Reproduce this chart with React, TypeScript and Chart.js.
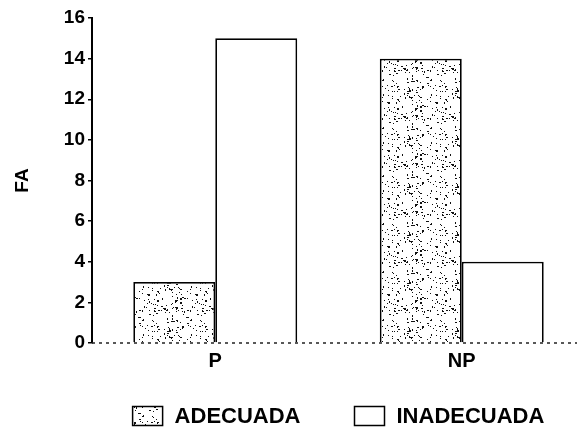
import { useEffect, useRef } from "react";
import { Chart, registerables } from "chart.js";

Chart.register(...registerables);

const categories = ["P", "NP"];
const seriesLabels = ["ADECUADA", "INADECUADA"];
const adecuadaValues = [3, 14];
const inadecuadaValues = [15, 4];
const yTitle = "FA";
const yMin = 0;
const yMax = 16;
const yStep = 2;

const FONT = "'Liberation Sans', Arial, Helvetica, sans-serif";

function makeStipple(): CanvasPattern | string {
  const S = 48;
  const tile = document.createElement("canvas");
  tile.width = S;
  tile.height = S;
  const c = tile.getContext("2d");
  if (!c) return "#ddd";
  c.fillStyle = "#ffffff";
  c.fillRect(0, 0, S, S);
  c.fillStyle = "#111111";
  // deterministic texture seed (visual stipple only, not data)
  let seed = 12345;
  const next = () => {
    seed = (seed * 1103515245 + 12345) & 0x7fffffff;
    return seed / 0x7fffffff;
  };
  for (let i = 0; i < 150; i++) {
    const x = Math.floor(next() * S);
    const y = Math.floor(next() * S);
    const w = next() < 0.25 ? 2 : 1;
    const h = next() < 0.2 ? 2 : 1;
    c.fillRect(x, y, w, h);
  }
  const p = c.createPattern(tile, "repeat");
  return p || "#ddd";
}

const customDraw = {
  id: "customDraw",
  afterDatasetsDraw(chart: any) {
    const { ctx, chartArea, scales } = chart;
    const y0 = scales.y.getPixelForValue(0);
    ctx.save();
    ctx.strokeStyle = "#222";
    ctx.lineWidth = 1.5;
    ctx.setLineDash([3, 4]);
    ctx.beginPath();
    ctx.moveTo(chartArea.left, y0);
    ctx.lineTo(chart.width, y0);
    ctx.stroke();
    ctx.restore();
  },
  afterDraw(chart: any) {
    const { ctx, chartArea } = chart;
    ctx.save();
    ctx.font = `bold 22px ${FONT}`;
    const boxW = 30;
    const boxH = 19;
    const gapText = 12;
    const gapItem = 54;
    const items = chart.data.datasets.map((ds: any) => ({
      label: ds.label as string,
      fill: ds.backgroundColor,
      w: boxW + gapText + ctx.measureText(ds.label).width,
    }));
    const total =
      items.reduce((s: number, it: any) => s + it.w, 0) + gapItem * (items.length - 1);
    let x = (chartArea.left + chartArea.right) / 2 - total / 2;
    const yc = chart.height - 19;
    for (const it of items) {
      ctx.fillStyle = it.fill;
      ctx.fillRect(x, yc - boxH / 2, boxW, boxH);
      ctx.strokeStyle = "#000";
      ctx.lineWidth = 1.5;
      ctx.strokeRect(x, yc - boxH / 2, boxW, boxH);
      ctx.fillStyle = "#000";
      ctx.textBaseline = "middle";
      ctx.textAlign = "left";
      ctx.fillText(it.label, x + boxW + gapText, yc + 1);
      x += it.w + gapItem;
    }
    ctx.restore();
  },
};

export default function App() {
  const ref = useRef<HTMLCanvasElement | null>(null);

  useEffect(() => {
    if (!ref.current) return;
    const stipple = makeStipple();
    const chart = new Chart(ref.current, {
      type: "bar",
      data: {
        labels: categories,
        datasets: [
          {
            label: seriesLabels[0],
            data: adecuadaValues,
            backgroundColor: stipple as any,
            borderColor: "#000",
            borderWidth: 1.8,
          },
          {
            label: seriesLabels[1],
            data: inadecuadaValues,
            backgroundColor: "#ffffff",
            borderColor: "#000",
            borderWidth: 1.8,
          },
        ],
      },
      options: {
        responsive: false,
        animation: false,
        layout: { padding: { top: 18, left: 0, right: 0, bottom: 56 } },
        datasets: {
          bar: { categoryPercentage: 0.665, barPercentage: 1 },
        },
        plugins: {
          legend: { display: false },
          tooltip: { enabled: false },
        },
        scales: {
          x: {
            grid: { display: false, drawTicks: false },
            border: { display: false },
            ticks: {
              color: "#000",
              padding: 6,
              font: { family: FONT, size: 20, weight: "bold" },
            },
          },
          y: {
            min: yMin,
            max: yMax,
            afterFit: (scale: any) => {
              scale.width = 92;
            },
            border: { display: true, color: "#000", width: 2 },
            grid: {
              display: true,
              drawOnChartArea: false,
              drawTicks: true,
              tickLength: 4,
              color: "#000",
              lineWidth: 1.5,
            },
            ticks: {
              stepSize: yStep,
              color: "#000",
              padding: 3,
              font: { family: FONT, size: 19, weight: "bold" },
            },
            title: {
              display: true,
              text: yTitle,
              color: "#000",
              padding: { top: 11, bottom: 0 },
              font: { family: FONT, size: 19, weight: "bold" },
            },
          },
        },
      },
      plugins: [customDraw],
    });
    return () => chart.destroy();
  }, []);

  return (
    <div
      style={{
        position: "fixed",
        left: 0,
        top: 0,
        width: 577,
        height: 435,
        overflow: "hidden",
        background: "#fff",
      }}
    >
      <canvas ref={ref} width={585} height={435} style={{ display: "block" }} />
    </div>
  );
}
